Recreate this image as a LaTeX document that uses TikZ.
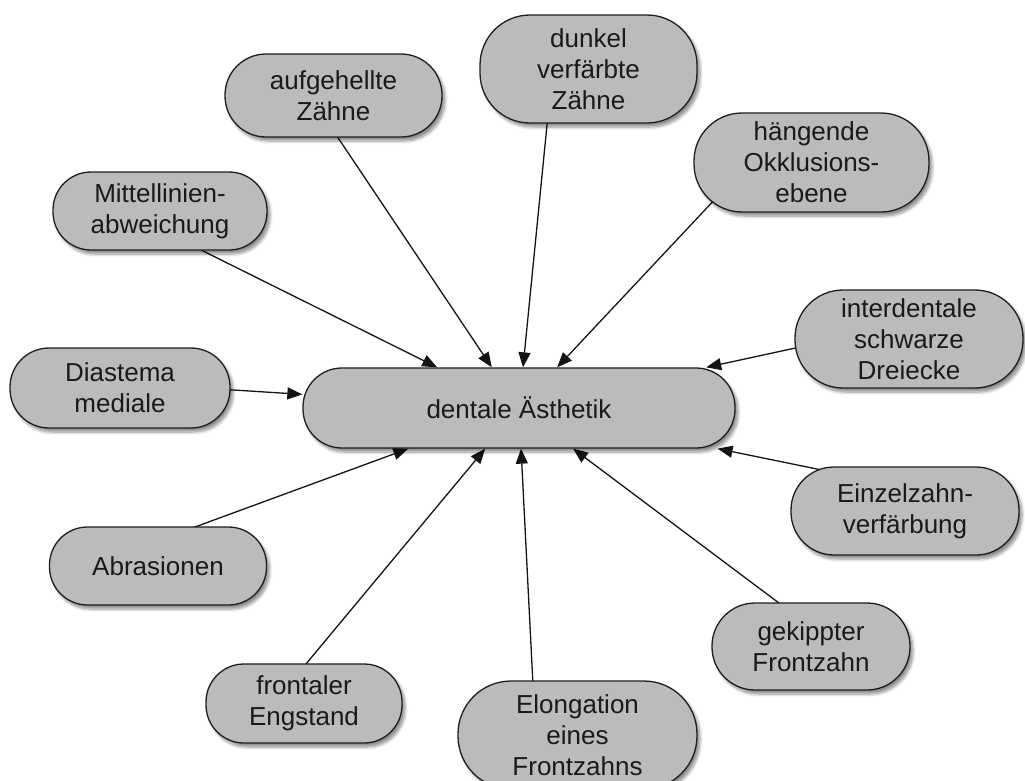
\documentclass[tikz,border=0pt]{standalone}
\usepackage{fontspec}
\setmainfont{Liberation Sans}
\usetikzlibrary{arrows.meta,shadows.blur}
\definecolor{nodegray}{RGB}{187,187,187}
\definecolor{outline}{RGB}{30,30,30}
\definecolor{textcol}{RGB}{25,25,30}
\definecolor{edgecol}{RGB}{20,20,20}
\pgfdeclarelayer{background}
\pgfsetlayers{background,main}
\tikzset{
  box/.style n args={3}{draw=outline, line width=1.3pt, fill=nodegray,
    align=center, inner sep=0pt, text=textcol,
    minimum width=#1pt, minimum height=#2pt, rounded corners=#3pt,
    font=\fontsize{26}{31}\selectfont,
    blur shadow={shadow xshift=3pt, shadow yshift=-4pt, shadow blur steps=6,
      shadow blur radius=3pt, shadow opacity=45}},
  arr/.style={draw=edgecol, line width=1.3pt, -{Triangle[length=15pt,width=12pt]}}
}
\begin{document}
\begin{tikzpicture}[x=1pt,y=-1pt]
\useasboundingbox (0,0) rectangle (1025,780);
\node[box={432}{80}{39}] (c) at (519,408) {dentale Ästhetik};
\node[box={217}{83}{41}] (auf) at (333.5,95.5) {aufgehellte\\Zähne};
\node[box={217}{108}{50}] (dun) at (588.5,69) {dunkel\\verfärbte\\Zähne};
\node[box={235}{99}{48}] (hae) at (811.5,162.5) {hängende\\Okklusions-\\ebene};
\node[box={214}{78}{38}] (mit) at (160,211) {Mittellinien-\\abweichung};
\node[box={228}{98}{48}] (int) at (909,339) {interdentale\\schwarze\\Dreiecke};
\node[box={220}{80}{39}] (dia) at (120,388) {Diastema\\mediale};
\node[box={228}{88}{43}] (ein) at (905,511) {Einzelzahn-\\verfärbung};
\node[box={217}{78}{38}] (abr) at (158,566) {Abrasionen};
\node[box={198}{87}{43}] (gek) at (811,646.5) {gekippter\\Frontzahn};
\node[box={196}{79}{38}] (fro) at (304,703.5) {frontaler\\Engstand};
\node[box={239}{108}{53}] (elo) at (577.5,735) {Elongation\\eines\\Frontzahns};
\begin{pgfonlayer}{background}
\draw[arr] ([shift={(36,36.5)}]mit.center) -- (c);
\draw[arr] ([shift={(-1,34)}]auf.center) -- (c);
\draw[arr] ([shift={(-40.5,46)}]dun.center) -- (c);
\draw[arr] ([shift={(-93.5,33.5)}]hae.center) -- (c);
\draw[arr] ([shift={(-102,6.5)}]int.center) -- (c);
\draw[arr] ([shift={(98,1)}]dia.center) -- (c);
\draw[arr] ([shift={(-73.4,-39)}]ein.center) -- (c);
\draw[arr] ([shift={(28.7,-36)}]abr.center) -- (c);
\draw[arr] ([shift={(-5.7,-30.3)}]fro.center) -- (c);
\draw[arr] ([shift={(-44,-40)}]elo.center) -- (c);
\draw[arr] ([shift={(-21.4,-35.5)}]gek.center) -- (c);
\end{pgfonlayer}
\end{tikzpicture}
\end{document}
